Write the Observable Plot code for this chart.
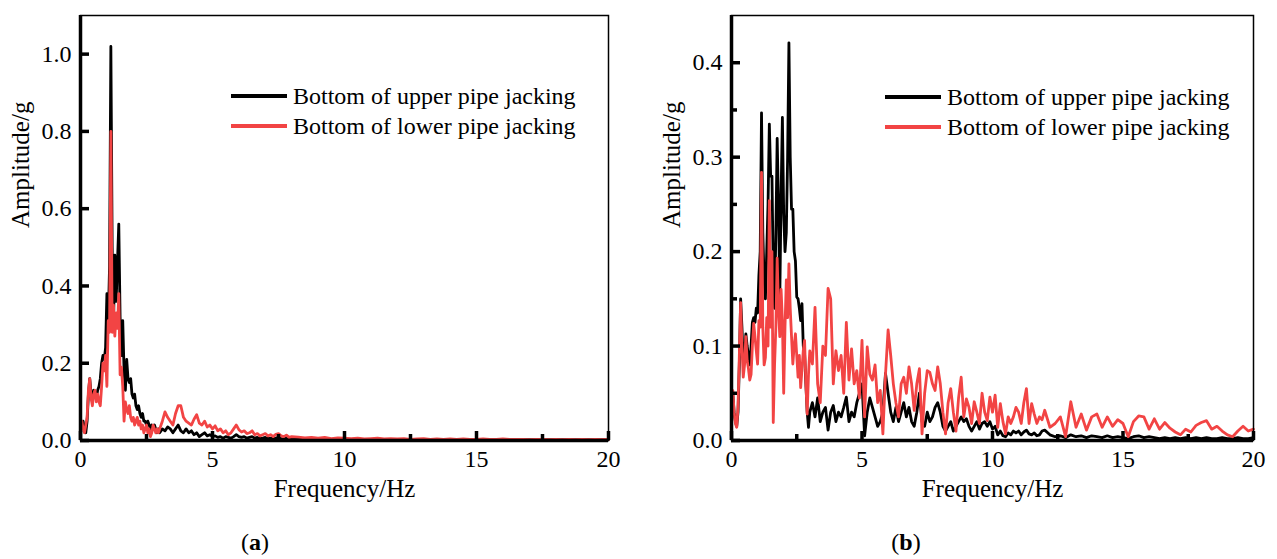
<!DOCTYPE html>
<html><head><meta charset="utf-8">
<script src="https://cdn.jsdelivr.net/npm/d3@7"></script>
<script src="https://cdn.jsdelivr.net/npm/@observablehq/plot@0.6"></script>
<style>
body{margin:0;background:#fff;width:1277px;height:559px;position:relative;overflow:hidden;font-family:"Liberation Serif","Times New Roman",serif;color:#000;}
.panel{position:absolute;top:0;}
.leg{position:absolute;font-size:24px;line-height:30px;}
.row{display:flex;align-items:center;height:30px;white-space:nowrap;}
.sw{display:inline-block;width:56px;height:3.5px;margin-right:6px;}
.cap{position:absolute;top:529px;font-size:24px;transform:translateX(-50%);}
</style></head><body>
<div id="pa" class="panel" style="left:0"></div>
<div id="pb" class="panel" style="left:640px"></div>
<div class="leg" style="left:231px;top:81px">
 <div class="row"><span class="sw" style="background:#000"></span>Bottom of upper pipe jacking</div>
 <div class="row"><span class="sw" style="background:#f24444"></span>Bottom of lower pipe jacking</div>
</div>
<div class="leg" style="left:885px;top:82px">
 <div class="row"><span class="sw" style="background:#000"></span>Bottom of upper pipe jacking</div>
 <div class="row"><span class="sw" style="background:#f24444"></span>Bottom of lower pipe jacking</div>
</div>
<div class="cap" style="left:255px">(<b>a</b>)</div>
<div class="cap" style="left:906px">(<b>b</b>)</div>
<script>
// ---------- Panel (a) data ----------
const freqA = [0,0.05,0.1,0.15,0.2,0.25,0.3,0.35,0.4,0.45,0.5,0.55,0.6,0.65,0.7,0.75,0.8,0.85,0.9,0.95,1,1.05,1.1,1.15,1.2,1.25,1.3,1.35,1.4,1.45,1.5,1.55,1.6,1.65,1.7,1.75,1.8,1.85,1.9,1.95,2,2.05,2.1,2.15,2.2,2.25,2.3,2.35,2.4,2.45,2.5,2.55,2.6,2.65,2.7,2.75,2.8,2.85,2.9,2.95,3,
3.1,3.2,3.3,3.4,3.5,3.6,3.7,3.8,3.9,4,4.1,4.2,4.3,4.4,4.5,4.6,4.7,4.8,4.9,5,5.1,5.2,5.3,5.4,5.5,5.6,5.7,5.8,5.9,6,6.1,6.2,6.3,6.4,6.5,6.6,6.7,6.8,6.9,7,7.1,7.2,7.3,7.4,7.5,7.6,7.7,7.8,7.9,8,
8.25,8.5,8.75,9,9.25,9.5,9.75,10,10.25,10.5,10.75,11,11.25,11.5,11.75,12,12.25,12.5,12.75,13,13.25,13.5,13.75,14,14.25,14.5,14.75,15,15.25,15.5,15.75,16,16.25,16.5,16.75,17,17.25,17.5,17.75,18,18.25,18.5,18.75,19,19.25,19.5,19.75,20];
const upperA = [0.02,0.04,0.05,0.03,0.02,0.05,0.12,0.16,0.12,0.10,
0.13,0.12,0.11,0.13,0.14,0.16,0.20,0.22,0.21,0.24,
0.38,0.30,0.45,1.02,0.50,0.30,0.48,0.36,0.46,0.56,
0.32,0.22,0.31,0.18,0.13,0.21,0.16,0.15,0.16,0.12,
0.11,0.12,0.09,0.08,0.09,0.07,0.06,0.07,0.05,0.05,
0.04,0.05,0.04,0.03,0.04,0.03,0.04,0.03,0.02,0.03,0.02,
0.03,0.025,0.035,0.03,0.02,0.03,0.04,0.025,0.02,0.03,
0.02,0.025,0.015,0.02,0.01,0.015,0.02,0.012,0.015,0.01,
0.012,0.008,0.01,0.006,0.01,0.008,0.006,0.01,0.015,0.01,
0.008,0.01,0.006,0.008,0.01,0.006,0.008,0.005,0.006,0.008,
0.005,0.006,0.004,0.006,0.008,0.005,0.004,0.006,0.003,0.004,
0.004,0.003,0.004,0.003,0.004,0.003,0.003,0.003,0.002,0.003,0.002,0.003,0.002,0.002,0.003,0.002,
0.002,0.002,0.003,0.002,0.002,0.002,0.002,0.002,0.002,0.002,0.002,0.002,0.002,0.002,0.002,0.002,
0.002,0.002,0.002,0.002,0.002,0.002,0.002,0.002,0.002,0.002,0.002,0.002,0.002,0.002,0.002,0.002];
const lowerA = [0.03,0.05,0.03,0.02,0.04,0.06,0.13,0.16,0.11,0.09,
0.12,0.13,0.10,0.12,0.10,0.09,0.14,0.20,0.18,0.22,
0.14,0.31,0.28,0.80,0.28,0.35,0.27,0.33,0.29,0.38,
0.17,0.19,0.14,0.05,0.10,0.08,0.07,0.09,0.06,0.05,
0.06,0.04,0.05,0.06,0.04,0.05,0.03,0.04,0.02,0.03,
0.04,0.02,0.03,0.01,0.02,0.04,0.03,0.02,0.03,0.02,0.03,
0.05,0.074,0.06,0.05,0.04,0.07,0.09,0.09,0.06,0.05,
0.045,0.04,0.055,0.067,0.045,0.04,0.05,0.035,0.04,0.03,
0.038,0.025,0.03,0.02,0.025,0.015,0.02,0.03,0.04,0.028,
0.022,0.025,0.018,0.02,0.025,0.015,0.018,0.012,0.015,0.018,
0.012,0.015,0.01,0.016,0.018,0.012,0.01,0.014,0.008,0.01,
0.009,0.007,0.008,0.006,0.008,0.005,0.007,0.006,0.005,0.006,0.004,0.005,0.006,0.004,0.005,0.004,
0.005,0.003,0.004,0.005,0.003,0.004,0.003,0.004,0.003,0.004,0.003,0.003,0.004,0.003,0.003,0.004,
0.003,0.003,0.003,0.002,0.003,0.003,0.002,0.003,0.002,0.003,0.002,0.003,0.002,0.003,0.002,0.003];

// ---------- Panel (b) data ----------
const freqB = [0,0.05,0.1,0.15,0.2,0.25,0.3,0.35,0.4,0.45,0.5,0.55,0.6,0.65,0.7,0.75,0.8,0.85,0.9,0.95,1,1.05,1.1,1.15,1.2,1.25,1.3,1.35,1.4,1.45,1.5,1.55,1.6,1.65,1.7,1.75,1.8,1.85,1.9,1.95,2,2.05,2.1,2.15,2.2,2.25,2.3,2.35,2.4,2.45,2.5,2.55,2.6,2.65,2.7,2.75,2.8,2.85,2.9,2.95,3,
3.1,3.2,3.3,3.4,3.5,3.6,3.7,3.8,3.9,4,4.1,4.2,4.3,4.4,4.5,4.6,4.7,4.8,4.9,5,5.1,5.2,5.3,5.4,5.5,5.6,5.7,5.8,5.9,6,6.1,6.2,6.3,6.4,6.5,6.6,6.7,6.8,6.9,7,7.1,7.2,7.3,7.4,7.5,7.6,7.7,7.8,7.9,8,
8.1,8.2,8.3,8.4,8.5,8.6,8.7,8.8,8.9,9,9.1,9.2,9.3,9.4,9.5,9.6,9.7,9.8,9.9,10,10.1,10.2,10.3,10.4,10.5,10.6,10.7,10.8,10.9,11,11.1,11.2,11.3,11.4,11.5,11.6,11.7,11.8,11.9,12,
12.2,12.4,12.6,12.8,13,13.2,13.4,13.6,13.8,14,14.2,14.4,14.6,14.8,15,15.2,15.4,15.6,15.8,16,16.2,16.4,16.6,16.8,17,17.2,17.4,17.6,17.8,18,18.2,18.4,18.6,18.8,19,19.2,19.4,19.6,19.8,20];
const upperB = [0.02,0.05,0.03,0.02,0.015,0.03,0.08,0.15,0.12,0.085,
0.09,0.113,0.1,0.09,0.08,0.1,0.125,0.13,0.125,0.14,
0.135,0.175,0.2,0.347,0.22,0.17,0.15,0.2,0.25,0.335,
0.28,0.28,0.18,0.14,0.22,0.32,0.25,0.15,0.26,0.342,
0.24,0.2,0.22,0.3,0.421,0.3,0.245,0.245,0.2,0.19,
0.152,0.15,0.14,0.127,0.145,0.1,0.092,0.06,0.03,0.014,0.03,
0.04,0.025,0.045,0.02,0.03,0.035,0.011,0.03,0.037,0.02,
0.03,0.025,0.035,0.046,0.02,0.03,0.025,0.04,0.05,0.06,
0.005,0.03,0.045,0.035,0.025,0.015,0.02,0.03,0.071,0.05,
0.03,0.02,0.035,0.02,0.03,0.04,0.025,0.035,0.02,0.015,
0.03,0.05,0.02,0.015,0.03,0.02,0.025,0.035,0.04,0.03,
0.015,0.01,0.015,0.02,0.01,0.015,0.02,0.025,0.02,0.023,
0.015,0.01,0.015,0.02,0.012,0.018,0.02,0.015,0.02,0.012,
0.015,0.006,0.01,0.005,0.004,0.008,0.006,0.01,0.008,0.01,
0.006,0.009,0.011,0.007,0.006,0.008,0.005,0.006,0.01,0.011,
0.006,0.004,0.005,0.003,0.006,0.004,0.005,0.003,0.005,0.004,
0.003,0.005,0.003,0.004,0.003,0.002,0.004,0.005,0.003,0.004,
0.003,0.002,0.003,0.002,0.003,0.002,0.003,0.002,0.003,0.002,
0.003,0.002,0.002,0.003,0.002,0.002,0.003,0.002,0.002,0.003];
const lowerB = [0.05,0.053,0.03,0.018,0.014,0.035,0.09,0.146,0.1,0.067,
0.08,0.11,0.085,0.076,0.064,0.07,0.1,0.124,0.11,0.095,
0.081,0.127,0.12,0.284,0.12,0.08,0.088,0.13,0.1,0.254,
0.12,0.2,0.019,0.08,0.12,0.193,0.14,0.11,0.16,0.127,
0.05,0.12,0.17,0.13,0.187,0.14,0.11,0.081,0.1,0.113,
0.09,0.067,0.09,0.056,0.075,0.095,0.106,0.06,0.028,0.07,0.095,
0.081,0.141,0.06,0.04,0.1,0.09,0.161,0.15,0.06,0.095,
0.074,0.09,0.05,0.125,0.064,0.097,0.06,0.074,0.045,0.106,
0.025,0.099,0.07,0.064,0.08,0.04,0.053,0.007,0.07,0.117,
0.09,0.06,0.04,0.025,0.06,0.067,0.05,0.078,0.06,0.032,
0.06,0.076,0.007,0.05,0.074,0.072,0.06,0.053,0.078,0.06,
0.03,0.007,0.04,0.055,0.03,0.01,0.045,0.067,0.025,0.044,
0.035,0.018,0.041,0.03,0.018,0.05,0.03,0.021,0.046,0.03,
0.048,0.014,0.039,0.02,0.007,0.025,0.018,0.025,0.035,0.03,
0.018,0.04,0.055,0.018,0.039,0.028,0.018,0.025,0.022,0.032,
0.014,0.018,0.025,0.004,0.041,0.014,0.028,0.011,0.025,0.028,
0.014,0.025,0.015,0.022,0.018,0.004,0.02,0.026,0.025,0.012,
0.023,0.012,0.019,0.013,0.009,0.006,0.012,0.009,0.016,0.019,
0.021,0.012,0.015,0.01,0.006,0.004,0.01,0.015,0.01,0.012];

// ---------- Ticks ----------
const xMajor = [0,5,10,15,20];
const xMinor = [2.5,7.5,12.5,17.5];
const yMajorA = [0,0.2,0.4,0.6,0.8,1.0];
const yMajorB = [0,0.1,0.2,0.3,0.4];
const yMinorB = [0.05,0.15,0.25,0.35];

const RED = "#f24444";
const HEIGHT = 510, MT = 15, MB = 70;

function panel({freq, upper, lower, yMax, yMajor, yMinor, width, marginLeft, marginRight}) {
  const up = freq.map((f, i) => ({f, a: upper[i]}));
  const lo = freq.map((f, i) => ({f, a: lower[i]}));
  const plotH = HEIGHT - MT - MB;
  const plotW = width - marginLeft - marginRight;
  const marks = [
    Plot.line(up, {x: "f", y: "a", stroke: "#000", strokeWidth: 2.8}),
    Plot.line(lo, {x: "f", y: "a", stroke: RED, strokeWidth: 2.8}),
    Plot.frame({stroke: "#000", strokeWidth: 1.5}),
    Plot.ruleX([0], {stroke: "#000", strokeWidth: 3.5}),
    Plot.ruleY([0], {stroke: "#000", strokeWidth: 3.5}),
    // inward tick marks: full-extent rules trimmed by insets to a short stub at the axis
    Plot.ruleX(xMajor, {insetTop: plotH - 9, stroke: "#000", strokeWidth: 3.5}),
    Plot.ruleX(xMinor, {insetTop: plotH - 6, stroke: "#000", strokeWidth: 3.5}),
    Plot.ruleY(yMajor, {insetRight: plotW - 9, stroke: "#000", strokeWidth: 3.5}),
    // tick labels
    Plot.axisX(xMajor, {tickSize: 0, tickPadding: 9, label: null}),
    Plot.axisY(yMajor, {tickSize: 0, tickPadding: 9, tickFormat: d3.format(".1f"), label: null}),
    Plot.text(["Frequency/Hz"], {frameAnchor: "bottom", dy: 56, fontSize: 25}),
    Plot.text(["Amplitude/g"], {frameAnchor: "left", dx: -60, rotate: -90, fontSize: 25})
  ];
  if (yMinor) marks.push(Plot.ruleY(yMinor, {insetRight: plotW - 6, stroke: "#000", strokeWidth: 3.5}));
  return Plot.plot({
    width, height: HEIGHT, marginLeft, marginRight, marginTop: MT, marginBottom: MB,
    style: {fontFamily: "'Liberation Serif', 'Times New Roman', serif", fontSize: "24px", color: "#000", background: "transparent", overflow: "visible"},
    x: {domain: [0, 20]},
    y: {domain: [0, yMax]},
    marks
  });
}

document.getElementById("pa").append(panel({freq: freqA, upper: upperA, lower: lowerA, yMax: 1.1, yMajor: yMajorA, yMinor: null, width: 640, marginLeft: 80, marginRight: 32}));
document.getElementById("pb").append(panel({freq: freqB, upper: upperB, lower: lowerB, yMax: 0.45, yMajor: yMajorB, yMinor: yMinorB, width: 637, marginLeft: 91, marginRight: 24}));
</script>
</body></html>
